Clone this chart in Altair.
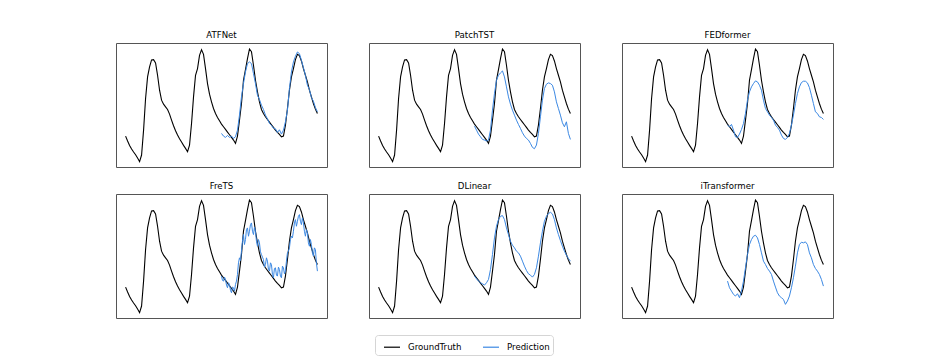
import altair as alt
import pandas as pd

models = ["ATFNet", "PatchTST", "FEDformer", "FreTS", "DLinear", "iTransformer"]
series_names = ["GroundTruth", "Prediction"]
pred_start = 48
pred_end = 96

ground_truth = [
    0.82, 0.67, 0.54, 0.43, 0.34, 0.26, 0.16, 0.05, 0.25, 1.00,
    1.95, 2.60, 2.90, 3.11, 3.12, 3.02, 2.65, 2.20, 1.90, 1.78,
    1.70, 1.62, 1.48, 1.30, 1.13, 0.98, 0.85, 0.74, 0.64, 0.54,
    0.45, 0.35, 0.55, 1.20, 2.00, 2.65, 2.85, 3.25, 3.42, 3.28,
    2.85, 2.40, 2.08, 1.85, 1.65, 1.50, 1.38, 1.28, 1.18, 1.10,
    1.02, 0.94, 0.86, 0.78, 0.70, 0.60, 0.82, 1.30, 1.80, 2.50,
    2.82, 3.15, 3.44, 3.36, 2.95, 2.50, 2.15, 1.85, 1.62, 1.50,
    1.40, 1.32, 1.24, 1.16, 1.08, 1.00, 0.93, 0.87, 0.80, 0.82,
    1.15, 1.65, 2.20, 2.60, 2.85, 3.12, 3.28, 3.24, 3.08, 2.85,
    2.65, 2.45, 2.20, 2.00, 1.80, 1.63, 1.50,
]

pred_atfnet = [
    0.90, 0.82, 0.78, 0.84, 0.78, 0.82, 0.75, 0.80, 1.00, 1.45,
    2.00, 2.40, 2.75, 3.00, 3.05, 3.00, 2.70, 2.40, 2.05, 1.92,
    1.75, 1.62, 1.45, 1.34, 1.20, 1.14, 1.06, 1.04, 0.93, 1.01,
    0.88, 1.00, 1.25, 1.60, 2.25, 2.75, 3.05, 3.22, 3.35, 3.30,
    3.10, 2.88, 2.65, 2.35, 2.22, 1.98, 1.87, 1.68, 1.55,
]
pred_patchtst = [
    1.12, 1.00, 0.88, 0.80, 0.72, 0.70, 0.67, 0.70, 1.00, 1.60,
    2.10, 2.50, 2.65, 2.72, 2.78, 2.60, 2.30, 2.00, 1.78, 1.60,
    1.45, 1.30, 1.17, 1.05, 0.92, 0.82, 0.75, 0.70, 0.60, 0.48,
    0.44, 0.55, 0.90, 1.40, 1.90, 2.25, 2.38, 2.42, 2.40, 2.35,
    2.15, 1.85, 1.65, 1.45, 1.22, 1.10, 1.25, 0.90, 0.72,
]
pred_fedformer = [
    1.15, 1.10, 1.17, 1.00, 0.80, 0.78, 0.88, 1.02, 1.20, 1.50,
    1.90, 2.15, 2.30, 2.40, 2.48, 2.45, 2.35, 2.20, 1.90, 1.65,
    1.55, 1.45, 1.38, 1.30, 1.15, 1.08, 1.00, 0.85, 0.75, 0.72,
    0.78, 0.90, 1.15, 1.45, 1.80, 2.10, 2.30, 2.43, 2.47, 2.47,
    2.42, 2.28, 2.05, 1.80, 1.55, 1.50, 1.40, 1.38, 1.32,
]
# FreTS is sampled twice as densely (half steps)
pred_frets = [
    1.15, 1.02, 1.00, 1.12, 1.05, 0.88, 0.80, 0.95, 0.90, 0.72,
    0.65, 0.82, 0.80, 0.70, 0.90, 1.00, 1.20, 1.55, 1.70, 1.62,
    1.90, 2.20, 2.40, 2.10, 2.25, 2.55, 2.60, 2.35, 2.50, 2.70,
    2.75, 2.50, 2.40, 2.62, 2.50, 2.20, 2.05, 2.25, 2.15, 1.88,
    1.80, 1.72, 1.65, 1.42, 1.50, 1.70, 1.60, 1.35, 1.30, 1.55,
    1.50, 1.20, 1.10, 1.38, 1.40, 1.18, 1.15, 1.42, 1.35, 1.15,
    1.10, 1.45, 1.40, 1.22, 1.30, 1.60, 1.85, 1.90, 2.00, 2.25,
    2.35, 2.30, 2.50, 2.75, 2.85, 2.65, 2.80, 2.95, 3.00, 2.80,
    2.70, 2.90, 2.75, 2.50, 2.35, 2.55, 2.45, 2.15, 2.05, 2.25,
    2.10, 1.85, 1.75, 2.00, 1.95, 1.55, 1.30,
]
pred_dlinear = [
    1.15, 1.07, 1.00, 0.95, 0.92, 0.88, 0.95, 1.05, 1.35, 1.80,
    2.30, 2.65, 2.85, 2.95, 2.97, 2.85, 2.60, 2.40, 2.20, 2.08,
    2.00, 1.90, 1.85, 1.75, 1.60, 1.45, 1.32, 1.22, 1.18, 1.12,
    1.20, 1.40, 1.75, 2.15, 2.50, 2.80, 2.95, 3.03, 3.07, 3.02,
    2.85, 2.60, 2.40, 2.22, 2.05, 1.90, 1.78, 1.68, 1.60,
]
pred_itransformer = [
    1.00, 0.80, 0.70, 0.60, 0.55, 0.62, 0.50, 0.70, 1.00, 1.40,
    1.80, 2.10, 2.25, 2.35, 2.38, 2.30, 2.10, 1.85, 1.60, 1.50,
    1.38, 1.30, 1.20, 1.00, 0.82, 0.65, 0.55, 0.50, 0.45, 0.30,
    0.40, 0.55, 0.80, 1.10, 1.45, 1.85, 2.10, 2.17, 2.15, 2.18,
    2.10, 1.85, 1.70, 1.50, 1.38, 1.30, 1.20, 1.05, 0.85,
]

predictions = {
    "ATFNet": pred_atfnet,
    "PatchTST": pred_patchtst,
    "FEDformer": pred_fedformer,
    "FreTS": pred_frets,
    "DLinear": pred_dlinear,
    "iTransformer": pred_itransformer,
}

rows = []
for m in models:
    for i, v in enumerate(ground_truth):
        rows.append({"model": m, "series": "GroundTruth", "t": i, "value": v})
    p = predictions[m]
    step = (pred_end - pred_start) / (len(p) - 1)
    for j, v in enumerate(p):
        rows.append({"model": m, "series": "Prediction", "t": pred_start + j * step, "value": v})
df = pd.DataFrame(rows)

color_scale = alt.Scale(domain=series_names, range=["#000000", "#3b88e3"])
x_enc = alt.X("t:Q", axis=None, scale=alt.Scale(domain=[-4.8, 100.8], nice=False, zero=False))
y_enc = alt.Y("value:Q", axis=None, scale=alt.Scale(domain=[-0.11, 3.62], nice=False, zero=False))
c_enc = alt.Color("series:N", scale=color_scale, title=None)

panels = []
for m in models:
    base = alt.Chart(df).transform_filter(alt.datum.model == m)
    gt = base.transform_filter(alt.datum.series == "GroundTruth").mark_line(strokeWidth=1.1).encode(
        x=x_enc, y=y_enc, color=c_enc,
    )
    pr = base.transform_filter(alt.datum.series == "Prediction").mark_line(strokeWidth=1.0).encode(
        x=x_enc, y=y_enc, color=c_enc,
    )
    panels.append(
        alt.layer(gt, pr).properties(
            width=211, height=124,
            title=alt.TitleParams(m, fontSize=8.6, fontWeight="normal", font="DejaVu Sans",
                                  color="#000000", offset=3),
        )
    )

chart = alt.concat(*panels, columns=3, spacing=alt.RowColnumber(column=40, row=13)).properties(
    padding={"left": 107, "top": 22, "right": 5, "bottom": 5},
).configure_view(
    stroke="#555555", strokeWidth=1
).configure_legend(
    orient="none", legendX=259, legendY=292, direction="horizontal",
    symbolType="stroke", symbolSize=256, symbolStrokeWidth=1.2, symbolOffset=5,
    labelFont="DejaVu Sans", labelFontSize=8.6, labelColor="#000000", labelOffset=7,
    strokeColor="#d5d5d5", padding=3, cornerRadius=3, columnPadding=15,
)

chart.save("out.html", embed_options={"renderer": "svg", "actions": False})
